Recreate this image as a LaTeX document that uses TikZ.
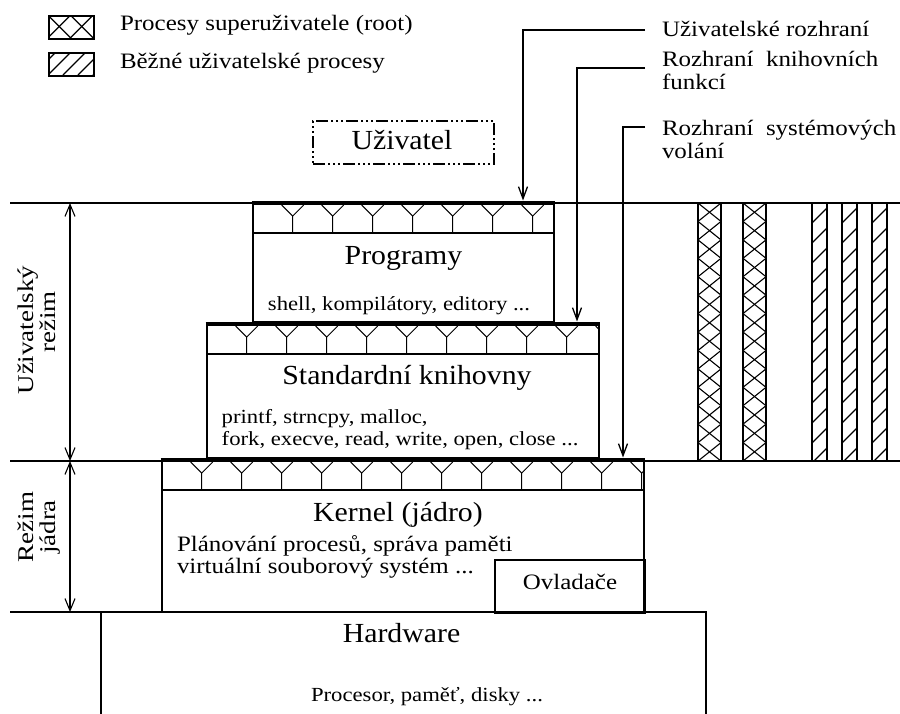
\documentclass[tikz,border=0pt]{standalone}
\usepackage{fontspec}
\setmainfont{Liberation Serif}
\newfontfamily\wideA[FakeStretch=1.135]{Liberation Serif}
\newfontfamily\wideB[FakeStretch=1.08]{Liberation Serif}
\newfontfamily\wideC[FakeStretch=1.2]{Liberation Serif}
\usetikzlibrary{arrows.meta}
\newcommand{\fttl}{\wideB\fontsize{27.6}{30}\selectfont}
\newcommand{\fnrm}{\wideA\fontsize{22}{24}\selectfont}
\newcommand{\fsml}{\wideA\fontsize{20}{22}\selectfont}
\newcommand{\flab}{\wideC\fontsize{22.5}{24}\selectfont}
\newcommand{\ifband}[3]{%
  \begin{scope}
    \clip (#1,#3) rectangle (#2,#3+30);
    \foreach \k in {1,...,13} {
      \draw[yline] (#1+40*\k,#3+30) -- (#1+40*\k,#3+13) -- (#1+40*\k-11,#3+2);
      \draw[yline] (#1+40*\k,#3+13) -- (#1+40*\k+11,#3+2);
    }
  \end{scope}
  \draw[boxline] (#1,#3+30) -- (#2,#3+30);
  \draw[barline] (#1-1,#3) -- (#2+1,#3);
}
\begin{document}
\begin{tikzpicture}[x=1pt,y=-1pt,
  thinl/.style={line width=1.1pt},
  yline/.style={line width=1pt},
  boxline/.style={line width=2pt},
  barline/.style={line width=4.5pt},
  layer/.style={draw,line width=2pt,fill=white,rectangle,anchor=north west,inner sep=0pt,outer sep=0pt},
  txt/.style={inner sep=0pt,outer sep=0pt},
  leader/.style={line width=1.3pt,-{Straight Barb[length=12pt,width=9pt]}},
  dim/.style={line width=1.1pt,{Straight Barb[length=12pt,width=10pt]}-{Straight Barb[length=12pt,width=10pt]}},
  hatchl/.style={line width=1.1pt},
  userbox/.style={draw,line width=2pt,rectangle,anchor=north west,inner sep=0pt,
    dash pattern=on 12pt off 3pt on 2pt off 3pt on 2pt off 3pt on 2pt off 3pt},
]
\useasboundingbox (0,0) rectangle (900,713);
\clip (0,0) rectangle (900,713);

% legend
\begin{scope}
  \clip (48,15) rectangle (93,38);
  \foreach \k in {-1,0,1,2} {
    \draw[hatchl] (59.25+22.5*\k-15,26.5-15) -- ++(30,30);
    \draw[hatchl] (59.25+22.5*\k-15,26.5+15) -- ++(30,-30);
  }
\end{scope}
\node[draw,line width=1.8pt,rectangle,anchor=north west,minimum width=45pt,minimum height=23pt,inner sep=0pt] (key1) at (48,15) {};
\begin{scope}
  \clip (48,52) rectangle (93,75);
  \foreach \k in {-2,...,4} \draw[hatchl] (48+15*\k,75) -- ++(25,-25);
\end{scope}
\node[draw,line width=1.8pt,rectangle,anchor=north west,minimum width=45pt,minimum height=23pt,inner sep=0pt] (key2) at (48,52) {};
\node[txt,anchor=base west,font=\fnrm] (k1t) at (120,30) {Procesy superuživatele (root)};
\node[txt,anchor=base west,font=\fnrm] (k2t) at (120,68) {Běžné uživatelské procesy};

% user
\node[userbox,minimum width=181pt,minimum height=43pt] (user) at (312,120) {};
\node[txt,anchor=base,font=\fttl] (usert) at (402,149) {Uživatel};

% mode lines
\draw[thinl] (10,203) -- (900,203);
\draw[thinl] (10,461) -- (900,461);
\draw[thinl] (10,612) -- (101,612);
\coordinate (d1) at (70,203);
\coordinate (d2) at (70,461);
\coordinate (d3) at (70,612);
\draw[dim] (d1) -- (d2);
\draw[dim] (d2) -- (d3);
\node[txt,rotate=90,anchor=base,font=\flab] (m1a) at (34,330) {Uživatelský};
\node[txt,rotate=90,anchor=base,font=\flab] (m1b) at (55,322) {režim};
\node[txt,rotate=90,anchor=base,font=\flab] (m2a) at (34,527) {Režim};
\node[txt,rotate=90,anchor=base,font=\flab] (m2b) at (55,527) {jádra};

% process columns
\foreach \cx in {698,743} {
  \foreach \k in {0,...,13} {
    \draw[hatchl] (\cx,203+18.43*\k) -- (\cx+23,203+18.43*\k+18.43);
    \draw[hatchl] (\cx+23,203+18.43*\k) -- (\cx,203+18.43*\k+18.43);
  }
  \draw[line width=1.5pt] (\cx,203) rectangle (\cx+23,461);
}
\foreach \cx in {812,842,872} {
  \begin{scope}
    \clip (\cx,203) rectangle (\cx+15,461);
    \foreach \k in {0,...,14} \draw[hatchl] (\cx,203+20*\k) -- ++(15,-15);
  \end{scope}
  \draw[line width=1.5pt] (\cx,203) rectangle (\cx+15,461);
}

% layers
\node[layer,minimum width=605pt,minimum height=140pt] (hw) at (101,612) {};
\node[txt,anchor=base,font=\fttl] (hwt) at (401.5,642) {Hardware};
\node[txt,anchor=base,font=\fsml] (hws) at (427,701) {Procesor, paměť, disky ...};

\node[layer,minimum width=482.6pt,minimum height=152pt] (kern) at (161.7,460) {};
\ifband{161.7}{644.3}{460}
\node[draw,line width=1.5pt,rectangle,anchor=north west,minimum width=150.3pt,minimum height=53pt,inner sep=0pt] (ovl) at (494,559) {};
\node[txt,anchor=base,font=\fnrm] (ovlt) at (570,589) {Ovladače};
\node[txt,anchor=base,font=\fttl] (kernt) at (398,521.5) {Kernel (jádro)};
\node[txt,anchor=base west,font=\fnrm] (kern1) at (177,551.5) {Plánování procesů, správa paměti};
\node[txt,anchor=base west,font=\fnrm] (kern2) at (177,573.5) {virtuální souborový systém ...};

\node[layer,minimum width=392.3pt,minimum height=134pt] (std) at (206.7,324) {};
\ifband{206.7}{599}{324}
\node[txt,anchor=base,font=\fttl] (stdt) at (407,384) {Standardní knihovny};
\node[txt,anchor=base west,font=\fsml] (std1) at (221.7,423.5) {printf, strncpy, malloc,};
\node[txt,anchor=base west,font=\fsml] (std2) at (221.7,445) {fork, execve, read, write, open, close ...};

\node[layer,minimum width=301.6pt,minimum height=119pt] (prog) at (252.7,203) {};
\ifband{252.7}{554.3}{203}
\node[txt,anchor=base,font=\fttl] (progt) at (403.5,264) {Programy};
\node[txt,anchor=base,font=\fsml] (progs) at (399,310.5) {shell, kompilátory, editory ...};

% interface labels
\node[txt,anchor=base west,font=\fnrm] (l1) at (662,36) {Uživatelské rozhraní};
\node[txt,anchor=base west,font=\fnrm] (l2a) at (662,66.5) {Rozhraní~ knihovních};
\node[txt,anchor=base west,font=\fnrm] (l2b) at (662,89) {funkcí};
\node[txt,anchor=base west,font=\fnrm] (l3a) at (662,135) {Rozhraní~ systémových};
\node[txt,anchor=base west,font=\fnrm] (l3b) at (662,158) {volání};
\coordinate (s1) at (645,30);
\coordinate (t1) at (523,200.5);
\coordinate (s2) at (645,68);
\coordinate (t2) at (577,321.5);
\coordinate (s3) at (645,127);
\coordinate (t3) at (623,457.5);
\draw[leader] (s1) -| (t1);
\draw[leader] (s2) -| (t2);
\draw[leader] (s3) -| (t3);
\end{tikzpicture}
\end{document}
